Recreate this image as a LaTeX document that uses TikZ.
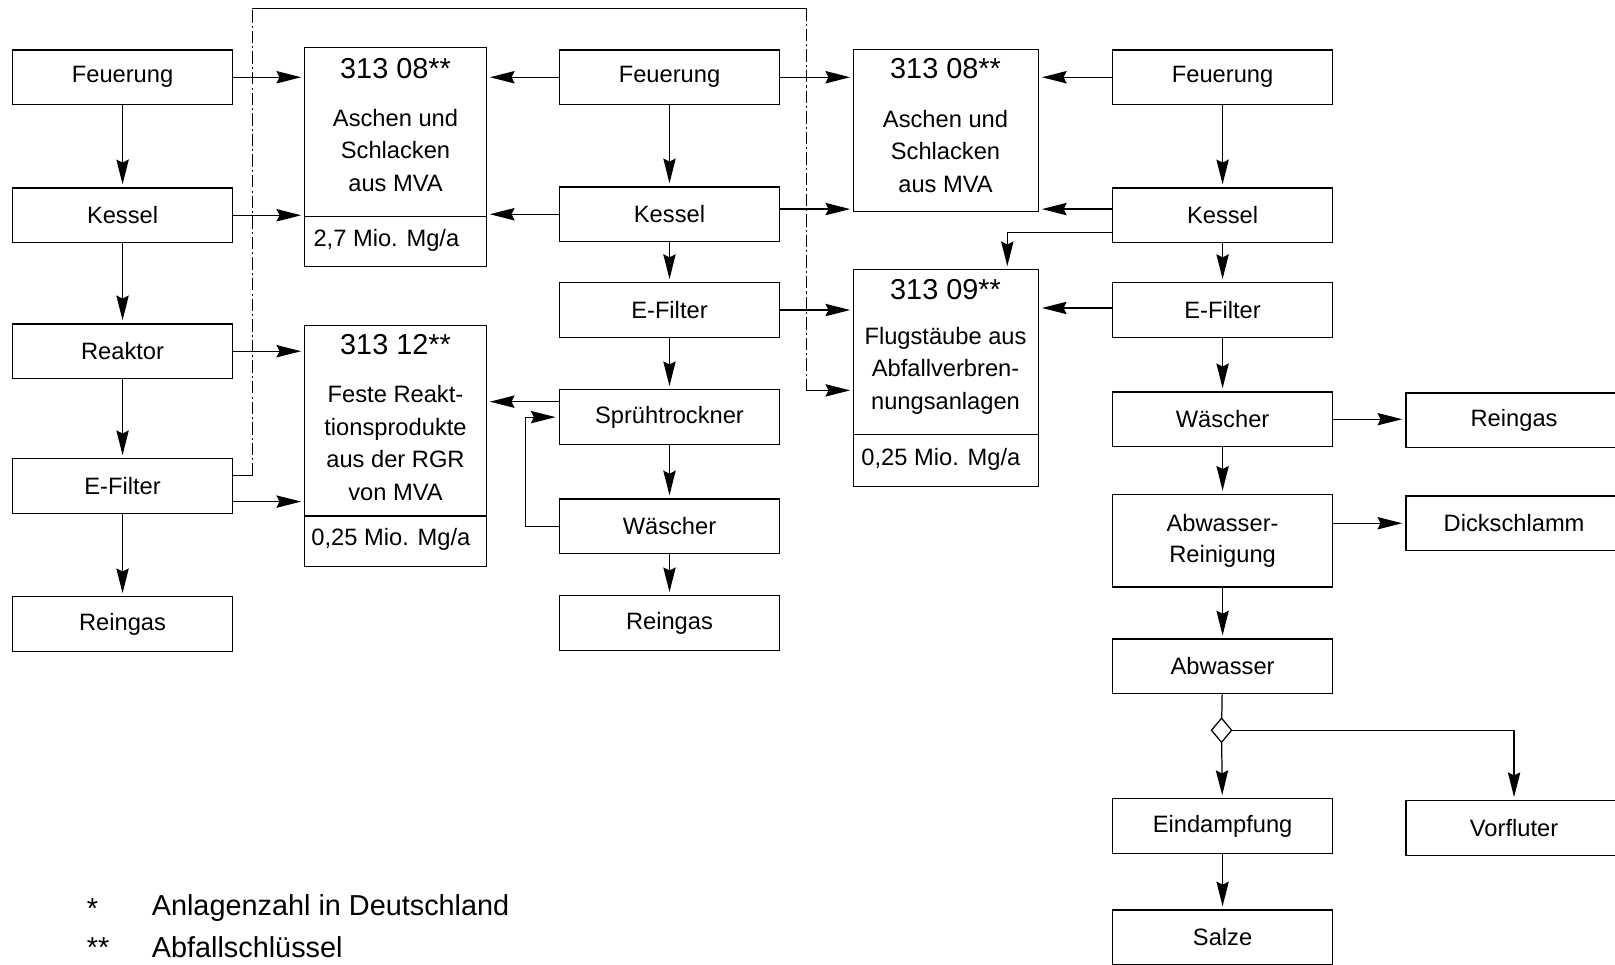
\documentclass[tikz,border=0pt]{standalone}
\usepackage{fontspec}
\setmainfont{Liberation Sans}
\usetikzlibrary{arrows.meta,shapes.geometric}

\tikzset{
  block/.style={draw, line width=0.6pt, minimum width=107pt, minimum height=26.5pt, inner sep=0pt, align=center, font=\fontsize{11.5}{15}\selectfont},
  stock/.style={draw, line width=0.6pt, inner sep=0pt},
  head/.style={inner sep=0pt, font=\fontsize{14}{16}\selectfont},
  body/.style={inner sep=0pt, align=center, font=\fontsize{11.5}{15.75}\selectfont},
  flow/.style={line width=0.6pt, -{Stealth[length=12pt,width=6pt,inset=1.5pt]}, shorten >=1.5pt},
  plain/.style={line width=0.6pt},
  dashdot/.style={line width=0.6pt, dash pattern=on 6pt off 1.5pt on 1pt off 1.5pt},
  legend/.style={anchor=west, inner sep=0pt, font=\fontsize{14}{16}\selectfont},
}

\begin{document}
\begin{tikzpicture}[x=0.5pt,y=0.5pt,yscale=-1,xscale=1]
\useasboundingbox (0,0) rectangle (1568,936);
\clip (0,0) rectangle (1568,936);

% left line of plants
\node[block] (feuL) at (119,75) {Feuerung};
\node[block] (kesL) at (119,209) {Kessel};
\node[block] (reaL) at (119,341) {Reaktor};
\node[block] (efiL) at (119,472) {E-Filter};
\node[block] (reiL) at (119,606) {Reingas};

% middle line of plants
\node[block] (feuM) at (650,75) {Feuerung};
\node[block] (kesM) at (650,208) {Kessel};
\node[block] (efiM) at (650,301) {E-Filter};
\node[block] (spr) at (650,405) {Sprühtrockner};
\node[block] (wasM) at (650,511) {Wäscher};
\node[block] (reiM) at (650,605) {Reingas};

% right line of plants
\node[block] (feuR) at (1187,75) {Feuerung};
\node[block] (kesR) at (1187,209) {Kessel};
\node[block] (efiR) at (1187,301) {E-Filter};
\node[block] (wasR) at (1187,407) {Wäscher};
\node[block, minimum height=45pt] (abwr) at (1187,525) {Abwasser-\\Reinigung};
\node[block] (abw) at (1187,647) {Abwasser};
\node[draw, diamond, line width=0.6pt, inner sep=0pt, minimum width=10pt, minimum height=12pt] (dia) at (1186,709) {};
\node[block] (eind) at (1187,802) {Eindampfung};
\node[block] (salz) at (1187,910) {Salze};
\node[block, minimum width=105pt] (reiR) at (1470,408) {Reingas};
\node[block, minimum width=105pt] (dick) at (1470,508) {Dickschlamm};
\node[block, minimum width=105pt] (vorf) at (1470,804) {Vorfluter};

%Shape: waste boxes
\node[stock, minimum width=88pt, minimum height=106.5pt] (ascheA) at (384,152.5) {};
\draw[plain] (ascheA.west |- 0,210) -- (ascheA.east |- 0,210);
\node[head] (ascheAh) at (384,67) {313 08**};
\node[body] (ascheAt) at (384,146) {Aschen und\\Schlacken\\aus MVA};
\node[body, anchor=west] (ascheAq) at (304,233) {2,7 Mio. Mg/a};

\node[stock, minimum width=88pt, minimum height=117pt] (rgr) at (384,433) {};
\draw[plain] (rgr.west |- 0,501) -- (rgr.east |- 0,501);
\node[head] (rgrh) at (384,335) {313 12**};
\node[body] (rgrt) at (384,430) {Feste Reakt-\\tionsprodukte\\aus der RGR\\von MVA};
\node[body, anchor=west] (rgrq) at (302,524) {0,25 Mio. Mg/a};

\node[stock, minimum width=89.5pt, minimum height=78.5pt] (ascheC) at (918.5,126.5) {};
\node[head] (ascheCh) at (918,67) {313 08**};
\node[body] (ascheCt) at (918,147) {Aschen und\\Schlacken\\aus MVA};

\node[stock, minimum width=89.5pt, minimum height=105pt] (staub) at (918.5,367) {};
\draw[plain] (staub.west |- 0,422) -- (staub.east |- 0,422);
\node[head] (staubh) at (918,281) {313 09**};
\node[body] (staubt) at (918,360) {Flugstäube aus\\Abfallverbren-\\nungsanlagen};
\node[body, anchor=west] (staubq) at (836,446) {0,25 Mio. Mg/a};

% flows down the lines
\draw[flow] (feuL) -- (kesL);
\draw[flow] (kesL) -- (reaL);
\draw[flow] (reaL) -- (efiL);
\draw[flow] (efiL) -- (reiL);
\draw[flow] (feuM) -- (kesM);
\draw[flow] (kesM) -- (efiM);
\draw[flow] (efiM) -- (spr);
\draw[flow] (spr) -- (wasM);
\draw[flow] (wasM) -- (reiM);
\draw[flow] (feuR) -- (kesR);
\draw[flow] (kesR) -- (efiR);
\draw[flow] (efiR) -- (wasR);
\draw[flow] (wasR) -- (abwr);
\draw[flow] (abwr) -- (abw);
\draw[plain] (abw) -- (dia);
\draw[flow] (dia) -- (eind);
\draw[flow] (eind) -- (salz);
\draw[flow] (dia.east) -| (vorf.north);
\draw[flow] (wasR) -- (wasR -| reiR.west);
\draw[flow] (dick -| abwr.east) -- (dick);

% flows to the waste boxes
\draw[flow] (feuL) -- (feuL -| ascheA.west);
\draw[flow] (kesL) -- (kesL -| ascheA.west);
\draw[flow] (reaL) -- (reaL -| rgr.west);
\draw[flow] (efiL.east |- 0,487) -- (rgr.west |- 0,487);
\draw[flow] (feuM) -- (feuM -| ascheA.east);
\draw[flow] (kesM) -- (kesM -| ascheA.east);
\draw[flow] (feuM) -- (feuM -| ascheC.west);
\draw[flow] (kesM.east |- 0,203) -- (ascheC.west |- 0,203);
\draw[flow] (efiM) -- (efiM -| staub.west);
\draw[flow] (spr.west |- 0,390) -- (rgr.east |- 0,390);
\draw[flow] (wasM.west) -- ++(-32,0) |- (spr.west);
\draw[flow] (feuR) -- (feuR -| ascheC.east);
\draw[flow] (kesR.west |- 0,203) -- (ascheC.east |- 0,203);
\draw[flow] (efiR.west |- 0,299) -- (staub.east |- 0,299);
\coordinate (kd) at (978,226);
\draw[flow] (kesR.west |- kd) -| (kd |- staub.north);

% E-Filter dust over the top
\coordinate (t1) at (245,462);
\coordinate (t2) at (245,8);
\coordinate (t3) at (783,8);
\coordinate (t4) at (783,379);
\draw[plain] (efiL.east |- t1) -- (t1);
\draw[dashdot] (t1) -- (t2);
\draw[plain] (t2) -- (t3);
\draw[dashdot] (t3) -- (t4);
\draw[flow] (t4) -- (t4 -| staub.west);

% Text Node
\node[legend] (star1) at (84,882) {*};
\node[legend] (leg1) at (147,882) {Anlagenzahl in Deutschland};
\node[legend] (star2) at (84,920) {**};
\node[legend] (leg2) at (147,920) {Abfallschlüssel};
\end{tikzpicture}
\end{document}
